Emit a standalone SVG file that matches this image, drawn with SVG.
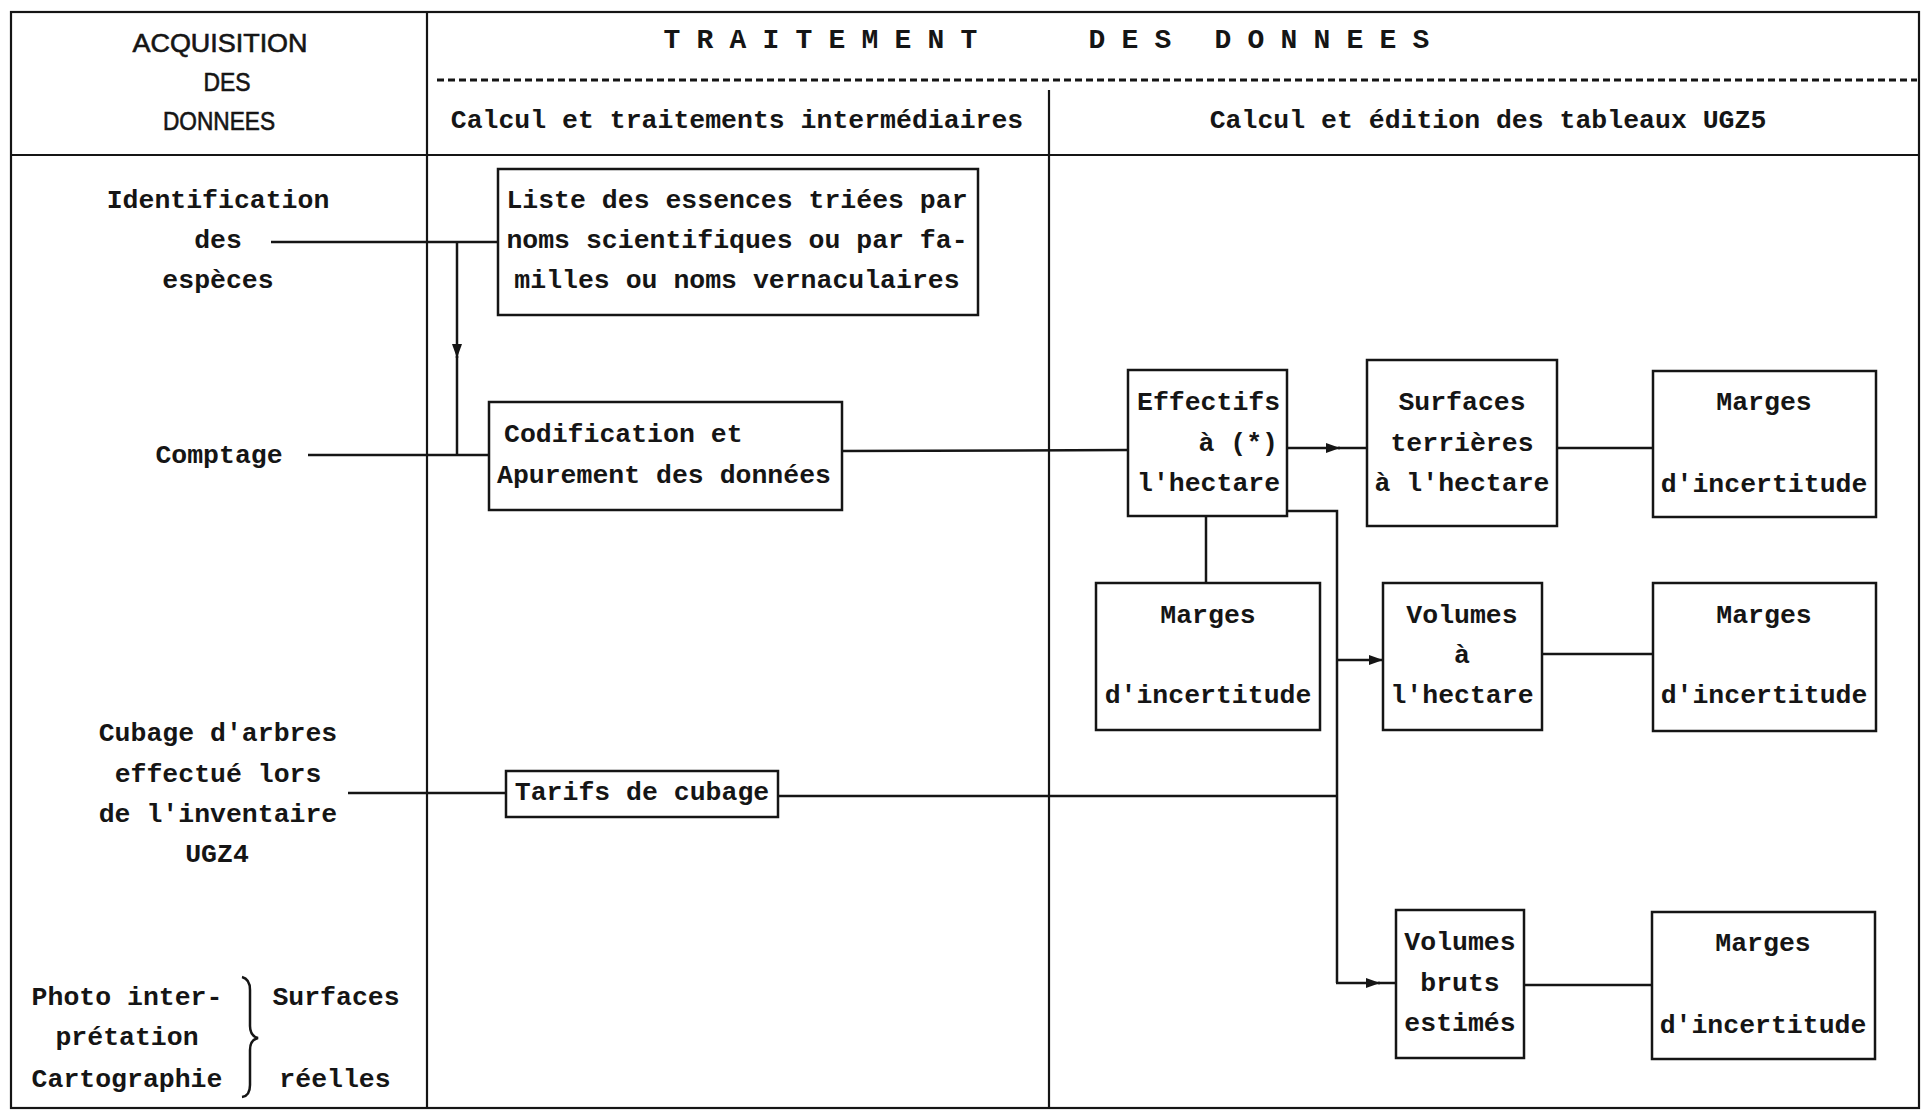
<svg xmlns="http://www.w3.org/2000/svg" width="1922" height="1111" viewBox="0 0 1922 1111">
<style>
.t{font-family:"Liberation Mono","Courier New",monospace;font-size:26.5px;font-weight:bold;fill:#151515}
.m{text-anchor:middle}
.h{font-family:"Liberation Mono","Courier New",monospace;font-size:28px;font-weight:bold;fill:#151515;text-anchor:middle}
.s{font-family:"Liberation Sans",Arial,sans-serif;font-size:25px;fill:#151515;text-anchor:middle;stroke:#151515;stroke-width:0.6}
.frame{fill:none;stroke:#151515;stroke-width:2.2}
.box{fill:#fff;stroke:#151515;stroke-width:2.5}
.c{fill:none;stroke:#151515;stroke-width:2.5}
.ca{fill:none;stroke:#151515;stroke-width:2.5;marker-end:url(#ah)}
</style>
<defs>
<marker id="ah" markerUnits="userSpaceOnUse" markerWidth="16" markerHeight="12" refX="14" refY="6" orient="auto">
<path d="M0,1 L14,6 L0,11 z" fill="#151515"/>
</marker>
</defs>
<rect width="1922" height="1111" fill="#fff"/>

<g id="table">
<rect class="frame" x="11" y="12" width="1908" height="1096"/>
<line class="frame" x1="11" y1="155" x2="1919" y2="155"/>
<line class="frame" x1="427" y1="12" x2="427" y2="1108"/>
<line class="frame" x1="1049" y1="90" x2="1049" y2="1108"/>
<line x1="437" y1="80" x2="1917" y2="80" stroke="#151515" stroke-width="3" stroke-dasharray="7,4"/>
</g>

<g id="headers">
<text class="s" x="220" y="52" textLength="175" lengthAdjust="spacingAndGlyphs">ACQUISITION</text>
<text class="s" x="227" y="91" textLength="47" lengthAdjust="spacingAndGlyphs">DES</text>
<text class="s" x="219" y="130" textLength="112" lengthAdjust="spacingAndGlyphs">DONNEES</text>
<text class="h" x="672 705 738 771 804 837 870 903 936 969" y="48">TRAITEMENT</text>
<text class="h" x="1097 1130 1163" y="48">DES</text>
<text class="h" x="1223 1256 1289 1322 1355 1388 1421" y="48">DONNEES</text>
<text class="t m" x="737" y="128">Calcul et traitements intermédiaires</text>
<text class="t m" x="1488" y="128">Calcul et édition des tableaux UGZ5</text>
</g>

<g id="src-identification">
<text class="t m" x="218" y="208">Identification</text>
<text class="t m" x="218" y="248">des</text>
<text class="t m" x="218" y="288">espèces</text>
</g>
<g id="src-comptage">
<text class="t m" x="219" y="463">Comptage</text>
</g>
<g id="src-cubage">
<text class="t m" x="218" y="741">Cubage d'arbres</text>
<text class="t m" x="218" y="782">effectué lors</text>
<text class="t m" x="218" y="822">de l'inventaire</text>
<text class="t m" x="217" y="862">UGZ4</text>
</g>
<g id="src-photo">
<text class="t m" x="127" y="1005">Photo inter-</text>
<text class="t m" x="127" y="1045">prétation</text>
<text class="t m" x="127" y="1087">Cartographie</text>
<path class="c" d="M242,977 Q250,979 250,990 L250,1026 Q250,1036 258,1038 Q250,1040 250,1050 L250,1085 Q250,1096 242,1097"/>
<text class="t m" x="336" y="1005">Surfaces</text>
<text class="t m" x="335" y="1087">réelles</text>
</g>

<g id="connectors">
<line class="c" x1="271" y1="242" x2="498" y2="242"/>
<line class="ca" x1="457" y1="242" x2="457" y2="358"/>
<line class="c" x1="457" y1="356" x2="457" y2="455"/>
<line class="c" x1="308" y1="455" x2="489" y2="455" stroke-width="3.5"/>
<line class="c" x1="842" y1="451" x2="1128" y2="450"/>
<line class="ca" x1="1287" y1="448" x2="1340" y2="448"/>
<line class="c" x1="1338" y1="448" x2="1367" y2="448"/>
<line class="c" x1="1557" y1="448" x2="1653" y2="448"/>
<line class="c" x1="1206" y1="516" x2="1206" y2="583"/>
<polyline class="c" points="1287,511 1337,511 1337,983"/>
<line class="ca" x1="1337" y1="660" x2="1383" y2="660"/>
<line class="c" x1="1542" y1="654" x2="1653" y2="654"/>
<line class="c" x1="348" y1="793" x2="506" y2="793"/>
<line class="c" x1="778" y1="796" x2="1337" y2="796"/>
<line class="ca" x1="1336" y1="983" x2="1380" y2="983"/>
<line class="c" x1="1378" y1="983" x2="1396" y2="983"/>
<line class="c" x1="1524" y1="985" x2="1652" y2="985"/>
</g>

<g id="liste">
<rect class="box" x="498" y="169" width="480" height="146"/>
<text class="t m" x="737" y="208">Liste des essences triées par</text>
<text class="t m" x="737" y="248">noms scientifiques ou par fa-</text>
<text class="t m" x="737" y="288">milles ou noms vernaculaires</text>
</g>
<g id="codification">
<rect class="box" x="489" y="402" width="353" height="108"/>
<text class="t" x="504" y="442">Codification et</text>
<text class="t" x="497" y="483">Apurement des données</text>
</g>
<g id="tarifs">
<rect class="box" x="506" y="771" width="272" height="46"/>
<text class="t m" x="642" y="800">Tarifs de cubage</text>
</g>
<g id="effectifs">
<rect class="box" x="1128" y="370" width="159" height="146"/>
<text class="t" x="1137" y="410">Effectifs</text>
<text class="t" x="1278" y="451" text-anchor="end">à (*)</text>
<text class="t" x="1137" y="491">l'hectare</text>
</g>
<g id="surfaces">
<rect class="box" x="1367" y="360" width="190" height="166"/>
<text class="t m" x="1462" y="410">Surfaces</text>
<text class="t m" x="1462" y="451">terrières</text>
<text class="t m" x="1462" y="491">à l'hectare</text>
</g>
<g id="marges1">
<rect class="box" x="1653" y="371" width="223" height="146"/>
<text class="t m" x="1764" y="410">Marges</text>
<text class="t m" x="1764" y="492">d'incertitude</text>
</g>
<g id="marges2">
<rect class="box" x="1096" y="583" width="224" height="147"/>
<text class="t m" x="1208" y="623">Marges</text>
<text class="t m" x="1208" y="703">d'incertitude</text>
</g>
<g id="volumes">
<rect class="box" x="1383" y="583" width="159" height="147"/>
<text class="t m" x="1462" y="623">Volumes</text>
<text class="t m" x="1462" y="663">à</text>
<text class="t m" x="1462" y="703">l'hectare</text>
</g>
<g id="marges3">
<rect class="box" x="1653" y="583" width="223" height="148"/>
<text class="t m" x="1764" y="623">Marges</text>
<text class="t m" x="1764" y="703">d'incertitude</text>
</g>
<g id="volumes-bruts">
<rect class="box" x="1396" y="910" width="128" height="148"/>
<text class="t m" x="1460" y="950">Volumes</text>
<text class="t m" x="1460" y="991">bruts</text>
<text class="t m" x="1460" y="1031">estimés</text>
</g>
<g id="marges4">
<rect class="box" x="1652" y="912" width="223" height="147"/>
<text class="t m" x="1763" y="951">Marges</text>
<text class="t m" x="1763" y="1033">d'incertitude</text>
</g>
</svg>
